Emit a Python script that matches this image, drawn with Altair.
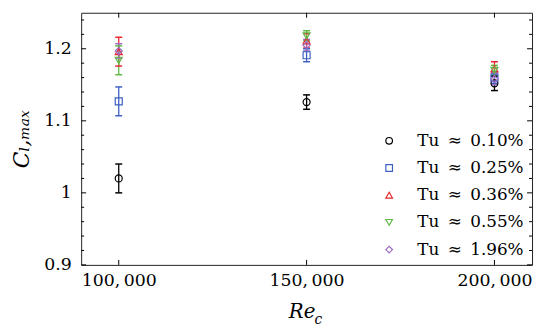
import altair as alt
import pandas as pd

# ---- data ----
re_values = [100000, 150000, 200000]
series_labels = [
    "Tu\u2002\u2248\u20020.10%",
    "Tu\u2002\u2248\u20020.25%",
    "Tu\u2002\u2248\u20020.36%",
    "Tu\u2002\u2248\u20020.55%",
    "Tu\u2002\u2248\u20021.96%",
]
cl_tu010 = [1.020, 1.126, 1.152]
err_tu010 = [0.020, 0.010, 0.010]
cl_tu025 = [1.127, 1.191, 1.160]
err_tu025 = [0.020, 0.009, 0.008]
cl_tu036 = [1.196, 1.211, 1.172]
err_tu036 = [0.020, 0.010, 0.010]
cl_tu055 = [1.184, 1.218, 1.170]
err_tu055 = [0.020, 0.007, 0.007]
cl_tu196 = [1.197, 1.205, 1.158]
err_tu196 = [0.010, 0.008, 0.008]

series_colors = ["#000000", "#3d5fc4", "#e8262e", "#62b846", "#9b6cc0"]
series_shapes = ["circle", "square", "triangle-up", "triangle-down", "diamond"]

x_major_ticks = [100000, 150000, 200000]
y_major_ticks = [0.9, 1.0, 1.1, 1.2]
y_minor_ticks = [0.92, 0.94, 0.96, 0.98, 1.02, 1.04, 1.06, 1.08,
                 1.12, 1.14, 1.16, 1.18, 1.22, 1.24]

x_domain = [90000, 210000]
y_domain = [0.9, 1.25]

# ---- build table ----
all_cl = [cl_tu010, cl_tu025, cl_tu036, cl_tu055, cl_tu196]
all_err = [err_tu010, err_tu025, err_tu036, err_tu055, err_tu196]
rows = []
for si, (lab, cls, errs) in enumerate(zip(series_labels, all_cl, all_err)):
    for re, c, e in zip(re_values, cls, errs):
        rows.append({"series": lab, "order": si, "Re": re, "cl": c,
                     "lo": c - e, "hi": c + e})
df = pd.DataFrame(rows)

W, H = 456, 255
SERIF = "DejaVu Serif"

xscale = alt.Scale(domain=x_domain, nice=False, zero=False)
yscale = alt.Scale(domain=y_domain, nice=False, zero=False)
series_scale = alt.Scale(domain=series_labels, range=series_colors)
legend = alt.Legend(orient="none", legendX=303, legendY=121, title=None,
                    labelFont=SERIF, labelFontSize=17, labelColor="black",
                    symbolSize=45, symbolStrokeWidth=1.2, rowPadding=9.5,
                    labelOffset=20, padding=0)
color = alt.Color("series:N", scale=series_scale, legend=legend)
shape = alt.Shape("series:N", scale=alt.Scale(domain=series_labels, range=series_shapes),
                  legend=legend)
color_nolegend = alt.Color("series:N", scale=series_scale, legend=None)

x_enc = alt.X("Re:Q", scale=xscale,
              axis=alt.Axis(values=x_major_ticks, ticks=False, tickSize=0, domain=False, grid=False,
                            title=None, labelFont=SERIF, labelFontSize=17.5, labelColor="black",
                            labelPadding=7,
                            labelExpr="replace(format(datum.value, ','), ',', ',\u2009')"))
y_enc = alt.Y("cl:Q", scale=yscale,
              axis=alt.Axis(values=y_major_ticks, ticks=False, tickSize=0, domain=False, grid=False,
                            format=".1f", labelExpr="datum.value == 1 ? '1' : datum.label",
                            labelFont=SERIF, labelFontSize=17.5, labelColor="black",
                            labelPadding=10,
                            title="C\u2097,\u2098\u2090\u2093", titleFont=SERIF,
                            titleFontStyle="italic", titleFontWeight="normal",
                            titleFontSize=22, titleColor="black", titleX=-60,
                            titleY=H / 2, titleAngle=270, titleBaseline="middle",
                            titleAlign="center"))

base = alt.Chart(df)

bars = base.mark_rule(strokeWidth=1.3).encode(
    x=alt.X("Re:Q", scale=xscale),
    y=alt.Y("lo:Q", scale=yscale),
    y2="hi:Q",
    color=color_nolegend,
    order="order:Q",
)
caps_lo = base.mark_tick(orient="horizontal", size=7, thickness=1.5, opacity=1).encode(
    x=alt.X("Re:Q", scale=xscale),
    y=alt.Y("lo:Q", scale=yscale),
    color=color_nolegend,
    order="order:Q",
)
caps_hi = base.mark_tick(orient="horizontal", size=7, thickness=1.5, opacity=1).encode(
    x=alt.X("Re:Q", scale=xscale),
    y=alt.Y("hi:Q", scale=yscale),
    color=color_nolegend,
    order="order:Q",
)
errorbars = alt.layer(bars, caps_lo, caps_hi)

points = base.mark_point(filled=False, size=50, strokeWidth=1.2, opacity=1).encode(
    x=x_enc, y=y_enc, color=color, shape=shape, order="order:Q",
)

# inward tick marks on all four sides
ymaj = pd.DataFrame({"v": y_major_ticks})
ymin = pd.DataFrame({"v": y_minor_ticks})
xmaj = pd.DataFrame({"v": x_major_ticks})
tick_style = dict(color="black", strokeWidth=1)


def yticks(d, length):
    left = alt.Chart(d).mark_rule(**tick_style).encode(
        y=alt.Y("v:Q", scale=yscale), x=alt.value(0), x2=alt.value(length))
    right = alt.Chart(d).mark_rule(**tick_style).encode(
        y=alt.Y("v:Q", scale=yscale), x=alt.value(W), x2=alt.value(W - length))
    return [left, right]


def xticks(d, length):
    bottom = alt.Chart(d).mark_rule(**tick_style).encode(
        x=alt.X("v:Q", scale=xscale), y=alt.value(H), y2=alt.value(H - length))
    top = alt.Chart(d).mark_rule(**tick_style).encode(
        x=alt.X("v:Q", scale=xscale), y=alt.value(0), y2=alt.value(length))
    return [bottom, top]


tick_layers = yticks(ymaj, 5) + yticks(ymin, 3) + xticks(xmaj, 5)

# x-axis title  Re_c
title_re = alt.Chart(pd.DataFrame({"t": ["Re"]})).mark_text(
    font=SERIF, fontStyle="italic", fontSize=20, align="left", baseline="alphabetic",
    color="black").encode(text="t:N", x=alt.value(210), y=alt.value(309))
title_c = alt.Chart(pd.DataFrame({"t": ["c"]})).mark_text(
    font=SERIF, fontStyle="italic", fontSize=14, align="left", baseline="alphabetic",
    color="black").encode(text="t:N", x=alt.value(236), y=alt.value(315))

chart = alt.layer(
    *tick_layers, errorbars, points, title_re, title_c
).resolve_scale(
    color="independent", shape="independent"
).resolve_legend(
    color="independent", shape="independent"
).properties(
    width=W, height=H,
    autosize=alt.AutoSizeParams(type="none"),
    padding={"left": 74, "top": 3, "right": 2, "bottom": 60},
).configure(
    background="white"
).configure_view(
    stroke="#222222", strokeWidth=1
)

chart.save("out.html", embed_options={"renderer": "svg", "actions": False})
